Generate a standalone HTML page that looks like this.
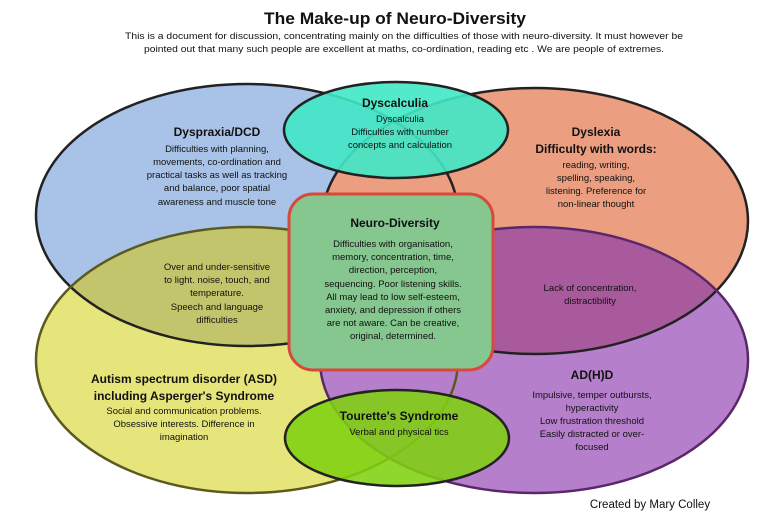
<!DOCTYPE html>
<html><head><meta charset="utf-8"><style>
html,body{margin:0;padding:0;background:#fff;}
svg{display:block;font-family:"Liberation Sans",sans-serif;}
</style></head><body>
<svg width="770" height="532" viewBox="0 0 770 532" xmlns="http://www.w3.org/2000/svg">
<defs>
<clipPath id="cy"><ellipse cx="247" cy="360" rx="211" ry="133"/></clipPath>
<clipPath id="cp"><ellipse cx="534" cy="360" rx="214" ry="133"/></clipPath>
</defs>
<g text-anchor="middle" fill="#111">
<text x="395" y="24" font-size="17" font-weight="bold" textLength="262" lengthAdjust="spacingAndGlyphs">The Make-up of Neuro-Diversity</text>
<text x="404" y="39" font-size="9.5" textLength="558" lengthAdjust="spacingAndGlyphs">This is a document for discussion, concentrating mainly on the difficulties of those with neuro-diversity. It must however be</text>
<text x="404" y="52" font-size="9.5" textLength="520" lengthAdjust="spacingAndGlyphs">pointed out that many such people are excellent at maths, co-ordination, reading etc . We are people of extremes.</text>
</g>
<!-- base fills -->
<ellipse cx="247" cy="215" rx="211" ry="131" fill="#a8c3e7"/>
<ellipse cx="535" cy="221" rx="213" ry="133" fill="#ec9e80"/>
<ellipse cx="247" cy="360" rx="211" ry="133" fill="#e6e57b"/>
<ellipse cx="534" cy="360" rx="214" ry="133" fill="#b57fcb"/>
<ellipse cx="247" cy="215" rx="211" ry="131" fill="#c3c56c" clip-path="url(#cy)"/>
<ellipse cx="535" cy="221" rx="213" ry="133" fill="#a95a9d" clip-path="url(#cp)"/>
<g fill="none" stroke="#222" stroke-width="2.5">
<ellipse cx="247" cy="215" rx="211" ry="131"/>
<ellipse cx="535" cy="221" rx="213" ry="133"/>
<ellipse cx="247" cy="360" rx="211" ry="133" stroke="#5a5a20"/>
<ellipse cx="534" cy="360" rx="214" ry="133" stroke="#5a2868"/>
</g>
<ellipse cx="396" cy="130" rx="112" ry="48" fill="#40e8c6" fill-opacity="0.9" stroke="#222" stroke-width="2.5"/>
<ellipse cx="397" cy="438" rx="112" ry="48" fill="#80d010" fill-opacity="0.88" stroke="#222" stroke-width="2.5"/>
<rect x="289" y="194" width="204" height="176" rx="24" fill="#86c68f" stroke="#d9483a" stroke-width="3"/>
<g text-anchor="middle" fill="#111" font-size="9.5">
<text x="395" y="107" font-size="12" font-weight="bold">Dyscalculia</text>
<text x="400" y="122">Dyscalculia</text>
<text x="400" y="135">Difficulties with number</text>
<text x="400" y="148">concepts and calculation</text>

<text x="217" y="136" font-size="12" font-weight="bold">Dyspraxia/DCD</text>
<text x="217" y="152">Difficulties with planning,</text>
<text x="217" y="165">movements, co-ordination and</text>
<text x="217" y="178">practical tasks as well as tracking</text>
<text x="217" y="191">and balance, poor spatial</text>
<text x="217" y="205">awareness and muscle tone</text>

<text x="596" y="136" font-size="12" font-weight="bold">Dyslexia</text>
<text x="596" y="153" font-size="12" font-weight="bold">Difficulty with words:</text>
<text x="596" y="168">reading, writing,</text>
<text x="596" y="181">spelling, speaking,</text>
<text x="596" y="194">listening. Preference for</text>
<text x="596" y="207">non-linear thought</text>

<text x="395" y="227" font-size="12" font-weight="bold">Neuro-Diversity</text>
<text x="393" y="247">Difficulties with organisation,</text>
<text x="393" y="260">memory, concentration, time,</text>
<text x="393" y="273">direction, perception,</text>
<text x="393" y="287">sequencing. Poor listening skills.</text>
<text x="393" y="300">All may lead to low self-esteem,</text>
<text x="393" y="313">anxiety, and depression if others</text>
<text x="393" y="326">are not aware. Can be creative,</text>
<text x="393" y="339">original, determined.</text>

<text x="217" y="270">Over and under-sensitive</text>
<text x="217" y="283">to light. noise, touch, and</text>
<text x="217" y="296">temperature.</text>
<text x="217" y="310">Speech and language</text>
<text x="217" y="323">difficulties</text>

<text x="590" y="291">Lack of concentration,</text>
<text x="590" y="304">distractibility</text>

<text x="184" y="383" font-size="12" font-weight="bold">Autism spectrum disorder (ASD)</text>
<text x="184" y="400" font-size="12" font-weight="bold">including Asperger's Syndrome</text>
<text x="184" y="414">Social and communication problems.</text>
<text x="184" y="427">Obsessive interests. Difference in</text>
<text x="184" y="440">imagination</text>

<text x="592" y="379" font-size="12" font-weight="bold">AD(H)D</text>
<text x="592" y="398">Impulsive, temper outbursts,</text>
<text x="592" y="411">hyperactivity</text>
<text x="592" y="424">Low frustration threshold</text>
<text x="592" y="437">Easily distracted or over-</text>
<text x="592" y="450">focused</text>

<text x="399" y="420" font-size="12" font-weight="bold">Tourette's Syndrome</text>
<text x="399" y="435">Verbal and physical tics</text>

<text x="650" y="508" font-size="11.5">Created by Mary Colley</text>
</g>
</svg>
</body></html>
